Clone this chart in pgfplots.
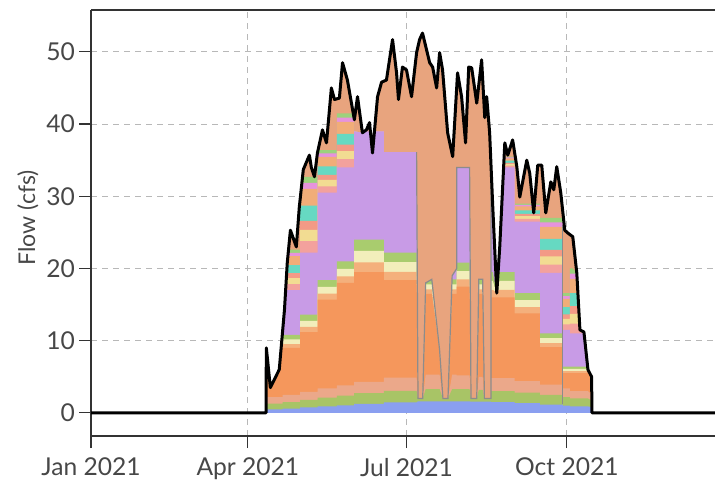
\documentclass[border=0pt]{standalone}
\usepackage{fontspec}
\setmainfont{Lato}
\usepackage{pgfplots}
\pgfplotsset{compat=1.18}
\usepackage{pgfplotstable}

\definecolor{cPeach}{RGB}{232,164,126}
\definecolor{cPurple}{RGB}{200,155,230}
\definecolor{cOrange}{RGB}{245,151,92}
\definecolor{cBlue}{RGB}{138,159,240}
\definecolor{cGreen}{RGB}{168,196,102}
\definecolor{cLsal}{RGB}{235,168,138}
\definecolor{cMa}{RGB}{244,176,124}
\definecolor{cMb}{RGB}{242,238,187}
\definecolor{cMc}{RGB}{169,204,110}
\definecolor{cUa}{RGB}{243,161,157}
\definecolor{cUb}{RGB}{242,220,146}
\definecolor{cUc}{RGB}{243,154,134}
\definecolor{cUd}{RGB}{102,217,194}
\definecolor{cUe}{RGB}{241,173,120}
\definecolor{cUf}{RGB}{230,147,220}
\definecolor{cUg}{RGB}{156,210,124}

% cumulative tops of the stacked components (day of year 2021, cfs)
\pgfplotstableread{
d b g s o ma mb mc p ua ub uc ud ue uf ug
100.6 0.5 1.3 2.2 9.0 9.0 9.0 9.0 9.0 9.0 9.0 9.0 9.0 9.0 9.0 9.0
102.9 0.5 1.3 2.2 3.5 3.5 3.5 3.5 3.5 3.5 3.5 3.5 3.5 3.5 3.5 3.5
108.0 0.5 1.3 2.2 6.0 6.0 6.0 6.0 6.0 6.0 6.0 6.0 6.0 6.0 6.0 6.0
110.0 0.5 1.3 2.2 11.5 11.5 11.5 11.5 11.5 11.5 11.5 11.5 11.5 11.5 11.5 11.5
110.0 0.6 1.5 2.5 9.0 9.54 10.17 10.8 11.5 11.5 11.5 11.5 11.5 11.5 11.5 11.5
111.0 0.6 1.5 2.5 9.0 9.54 10.17 10.8 14.3 14.3 14.3 14.3 14.3 14.3 14.3 14.3
112.6 0.6 1.5 2.5 9.0 9.54 10.17 10.8 17.0 17.84 18.68 19.35 20.47 20.8 20.8 20.8
113.2 0.6 1.5 2.5 9.0 9.54 10.17 10.8 17.0 17.84 18.68 19.35 20.47 21.7 22.15 22.3
113.5 0.6 1.5 2.5 9.0 9.54 10.17 10.8 17.0 17.84 18.68 19.35 20.47 21.7 22.15 22.6
120.0 0.6 1.5 2.5 9.0 9.54 10.17 10.8 17.0 17.84 18.68 19.35 20.47 21.7 22.15 22.6
120.0 0.75 1.8 2.9 11.2 11.92 12.76 13.6 22.2 23.78 25.35 26.61 28.71 29.6 29.6 29.6
121.0 0.75 1.8 2.9 11.2 11.92 12.76 13.6 22.2 23.78 25.35 26.61 28.71 31.02 31.86 31.89
121.8 0.75 1.8 2.9 11.2 11.92 12.76 13.6 22.2 23.78 25.35 26.61 28.71 31.02 31.86 32.7
130.0 0.75 1.8 2.9 11.2 11.92 12.76 13.6 22.2 23.78 25.35 26.61 28.71 31.02 31.86 32.7
130.0 0.9 2.1 3.4 15.7 16.51 17.46 18.4 30.5 31.39 32.27 32.98 34.16 35.46 35.93 36.1
130.5 0.9 2.1 3.4 15.7 16.51 17.46 18.4 30.5 31.39 32.27 32.98 34.16 35.46 35.93 36.4
141.0 0.9 2.1 3.4 15.7 16.51 17.46 18.4 30.5 31.39 32.27 32.98 34.16 35.46 35.93 36.4
141.0 1.05 2.4 3.8 18.0 18.9 19.95 21.0 34.0 35.13 36.25 37.15 38.65 40.3 40.9 41.5
150.0 1.05 2.4 3.8 18.0 18.9 19.95 21.0 34.0 35.13 36.25 37.15 38.65 40.3 40.9 41.5
151.0 1.05 2.4 3.8 18.0 18.9 19.95 21.0 34.0 35.13 36.25 37.15 38.65 40.3 40.74 40.74
151.0 1.25 2.75 4.3 19.5 20.85 22.43 24.0 39.0 39.0 39.0 39.0 39.0 39.0 39.0 39.0
155.7 1.25 2.75 4.3 19.5 20.85 22.43 24.0 38.8 38.8 38.8 38.8 38.8 38.8 38.8 38.8
157.0 1.25 2.75 4.3 19.5 20.85 22.43 24.0 39.0 39.0 39.0 39.0 39.0 39.0 39.0 39.0
160.0 1.25 2.75 4.3 19.5 20.85 22.43 24.0 39.0 39.0 39.0 39.0 39.0 39.0 39.0 39.0
160.5 1.25 2.75 4.3 19.5 20.85 22.43 24.0 38.5 38.5 38.5 38.5 38.5 38.5 38.5 38.5
161.5 1.25 2.75 4.3 19.5 20.85 22.43 24.0 36.0 36.0 36.0 36.0 36.0 36.0 36.0 36.0
162.5 1.25 2.75 4.3 19.5 20.85 22.43 24.0 38.7 38.7 38.7 38.7 38.7 38.7 38.7 38.7
162.8 1.25 2.75 4.3 19.5 20.85 22.43 24.0 39.0 39.0 39.0 39.0 39.0 39.0 39.0 39.0
168.0 1.25 2.75 4.3 19.5 20.85 22.43 24.0 39.0 39.0 39.0 39.0 39.0 39.0 39.0 39.0
168.0 1.45 3.05 4.9 18.4 19.54 20.87 22.2 36.1 36.1 36.1 36.1 36.1 36.1 36.1 36.1
186.8 1.45 3.05 4.9 18.4 19.54 20.87 22.2 36.1 36.1 36.1 36.1 36.1 36.1 36.1 36.1
187.6 1.6 2.0 2.0 2.0 2.0 2.0 2.0 2.0 2.0 2.0 2.0 2.0 2.0 2.0 2.0
190.3 1.6 2.0 2.0 2.0 2.0 2.0 2.0 2.0 2.0 2.0 2.0 2.0 2.0 2.0 2.0
192.0 1.6 3.3 5.3 16.5 17.1 17.8 18.0 18.0 18.0 18.0 18.0 18.0 18.0 18.0 18.0
195.5 1.6 3.3 5.3 16.5 17.1 17.8 18.5 18.5 18.5 18.5 18.5 18.5 18.5 18.5 18.5
200.0 1.6 3.3 5.3 8.7 8.7 8.7 8.7 8.7 8.7 8.7 8.7 8.7 8.7 8.7 8.7
201.9 1.6 2.0 2.0 2.0 2.0 2.0 2.0 2.0 2.0 2.0 2.0 2.0 2.0 2.0 2.0
204.8 1.6 2.0 2.0 2.0 2.0 2.0 2.0 2.0 2.0 2.0 2.0 2.0 2.0 2.0 2.0
207.2 1.6 3.3 5.3 16.5 17.1 17.8 18.5 19.0 19.0 19.0 19.0 19.0 19.0 19.0 19.0
209.8 1.6 3.3 5.3 16.5 17.1 17.8 18.5 20.0 20.0 20.0 20.0 20.0 20.0 20.0 20.0
209.8 1.6 3.3 5.2 17.5 18.49 19.65 20.8 34.0 34.0 34.0 34.0 34.0 34.0 34.0 34.0
217.2 1.6 3.3 5.2 17.5 18.49 19.65 20.8 34.0 34.0 34.0 34.0 34.0 34.0 34.0 34.0
218.0 1.55 2.0 2.0 2.0 2.0 2.0 2.0 2.0 2.0 2.0 2.0 2.0 2.0 2.0 2.0
221.3 1.55 2.0 2.0 2.0 2.0 2.0 2.0 2.0 2.0 2.0 2.0 2.0 2.0 2.0 2.0
222.5 1.55 3.2 5.0 16.5 17.1 17.8 18.5 18.5 18.5 18.5 18.5 18.5 18.5 18.5 18.5
224.7 1.55 3.2 5.0 16.5 17.1 17.8 18.5 18.5 18.5 18.5 18.5 18.5 18.5 18.5 18.5
225.7 1.55 2.0 2.0 2.0 2.0 2.0 2.0 2.0 2.0 2.0 2.0 2.0 2.0 2.0 2.0
229.5 1.55 2.0 2.0 2.0 2.0 2.0 2.0 2.0 2.0 2.0 2.0 2.0 2.0 2.0 2.0
229.5 1.5 3.0 4.8 16.0 17.05 18.28 19.5 34.0 34.2 34.2 34.2 34.2 34.2 34.2 34.2
230.5 1.5 3.0 4.8 16.0 17.05 18.28 19.5 28.5 28.5 28.5 28.5 28.5 28.5 28.5 28.5
232.8 1.5 3.0 4.8 16.0 16.6 16.6 16.6 16.6 16.6 16.6 16.6 16.6 16.6 16.6 16.6
233.6 1.5 3.0 4.8 16.0 17.05 18.28 19.5 19.6 19.6 19.6 19.6 19.6 19.6 19.6 19.6
234.5 1.5 3.0 4.8 16.0 17.05 18.28 19.5 23.0 23.0 23.0 23.0 23.0 23.0 23.0 23.0
236.7 1.5 3.0 4.8 16.0 17.05 18.28 19.5 34.0 34.0 34.0 34.0 34.0 34.0 34.0 34.0
237.4 1.5 3.0 4.8 16.0 17.05 18.28 19.5 34.0 34.23 34.45 34.63 34.93 35.26 35.38 35.5
243.0 1.5 3.0 4.8 16.0 17.05 18.28 19.5 34.0 34.23 34.45 34.63 34.93 35.26 35.38 35.5
243.0 1.35 2.8 4.4 13.8 14.64 15.62 16.6 26.5 26.88 27.25 27.55 28.05 28.6 28.8 29.0
253.0 1.35 2.8 4.4 13.8 14.64 15.62 16.6 26.5 26.88 27.25 27.55 28.05 28.6 28.8 29.0
254.0 1.35 2.8 4.4 13.8 14.64 15.62 16.6 26.5 26.88 27.25 27.55 27.7 27.7 27.7 27.7
255.0 1.35 2.8 4.4 13.8 14.64 15.62 16.6 26.5 26.88 27.25 27.55 28.05 28.6 28.8 29.0
257.5 1.35 2.8 4.4 13.8 14.64 15.62 16.6 26.5 26.88 27.25 27.55 28.05 28.6 28.8 29.0
257.5 1.15 2.5 3.9 9.1 9.67 10.34 11.0 19.4 20.54 21.68 22.59 24.11 25.78 26.39 27.0
270.7 1.15 2.5 3.9 9.1 9.67 10.34 11.0 19.4 20.54 21.68 22.59 24.11 25.78 26.39 27.0
270.7 1.0 2.2 3.4 5.5 5.77 6.09 6.4 11.5 12.27 13.03 13.64 14.66 15.78 16.19 16.6
274.7 1.0 2.2 3.4 5.5 5.77 6.09 6.4 11.5 12.27 13.03 13.64 14.66 15.78 16.19 16.6
274.7 0.9 2.0 3.0 5.5 5.77 6.09 6.4 11.0 12.35 13.7 14.78 16.58 18.56 19.28 20.0
276.4 0.9 2.0 3.0 5.5 5.77 6.09 6.4 11.0 12.35 13.7 14.78 16.58 18.56 19.28 20.0
278.7 0.9 2.0 3.0 5.5 5.77 6.09 6.4 11.0 12.35 13.7 14.78 16.58 18.56 19.28 19.4
279.5 0.9 2.0 3.0 5.5 5.77 6.09 6.4 11.0 12.35 13.7 14.78 15.9 15.9 15.9 15.9
280.5 0.9 2.0 3.0 5.5 5.77 6.09 6.4 11.0 11.5 11.5 11.5 11.5 11.5 11.5 11.5
282.8 0.9 2.0 3.0 5.5 5.77 6.09 6.4 11.0 11.2 11.2 11.2 11.2 11.2 11.2 11.2
284.0 0.9 2.0 3.0 5.5 5.77 6.09 6.4 8.5 8.5 8.5 8.5 8.5 8.5 8.5 8.5
285.1 0.9 2.0 3.0 5.5 5.77 6.0 6.0 6.0 6.0 6.0 6.0 6.0 6.0 6.0 6.0
287.2 0.8 1.7 2.6 5.0 5.0 5.0 5.0 5.0 5.0 5.0 5.0 5.0 5.0 5.0 5.0
}\stack

% total flow
\pgfplotstableread{
d t
0 0
100.4 0
100.6 9.0
102.9 3.5
108.0 6.0
111.0 14.3
112.6 20.8
114.4 25.3
117.8 23.0
119.5 28.5
121.8 33.7
125.3 35.7
126.4 34.0
128.2 32.7
129.9 36.0
132.8 39.2
135.1 37.4
137.9 45.0
139.7 43.4
142.5 43.6
144.3 48.5
147.1 46.1
151.1 40.6
152.9 43.8
155.7 38.8
158.0 39.2
159.8 40.2
161.5 36.0
164.4 43.8
166.7 45.8
169.5 46.1
173.0 51.7
175.3 47.1
176.4 43.4
178.7 47.9
181.0 47.5
183.9 43.8
186.8 49.9
188.5 51.7
190.2 52.6
192.5 50.3
194.3 48.5
196.0 47.9
198.3 45.0
200.0 49.9
201.7 47.5
204.6 38.8
207.5 35.5
210.3 47.1
212.6 43.8
214.9 37.4
216.7 47.9
218.4 47.8
221.3 42.9
224.1 48.9
225.9 40.9
227.0 43.8
228.7 38.8
230.5 28.5
232.8 16.6
234.5 23.0
237.4 37.4
239.1 35.7
241.9 37.8
244.3 34.1
246.0 29.9
250.0 35.0
251.7 33.2
254.0 27.7
256.3 34.3
258.6 34.3
260.9 27.7
263.8 32.0
265.5 30.9
267.2 34.1
269.5 30.5
271.8 25.3
273.6 24.9
276.4 24.4
278.7 19.4
280.5 11.5
282.8 11.2
285.1 6.0
287.2 5.0
287.4 0
358 0
}\total

\begin{document}
\begin{tikzpicture}
\begin{axis}[
  name=ax,
  scale only axis,
  width=312pt, height=213pt,
  xmin=0, xmax=358, ymin=-3.2, ymax=55.8,
  axis y line*=left,
  xtick={0,90,181,273},
  xticklabels={Jan 2021,Apr 2021,Jul 2021,Oct 2021},
  ytick={0,10,20,30,40,50},
  xtick pos=left,
  tick align=outside,
  major tick length=6pt,
  /pgf/number format/assume math mode=true,
  tick style={draw=black!80, line width=0.6pt},
  axis line style={draw=black!80, line width=0.7pt},
  grid=major,
  major grid style={draw=black!28, dash pattern=on 3pt off 2.5pt, line width=0.45pt},
  tick label style={font=\fontsize{12.3}{14}\selectfont, text=black!72},
  xticklabel style={yshift=-1.5pt},
  yticklabel style={xshift=1.5pt},
  ylabel={Flow (cfs)},
  every axis y label/.style={at={(axis description cs:-0.101,0.512)}, anchor=center, rotate=90, font=\fontsize{11.5}{13}\selectfont, text=black!72},
]
\addplot[draw=none, fill=cPeach] table[x=d,y=t]{\total} \closedcycle;
\addplot[draw=none, fill=cUg] table[x=d,y=ug]{\stack} \closedcycle;
\addplot[draw=none, fill=cUf] table[x=d,y=uf]{\stack} \closedcycle;
\addplot[draw=none, fill=cUe] table[x=d,y=ue]{\stack} \closedcycle;
\addplot[draw=none, fill=cUd] table[x=d,y=ud]{\stack} \closedcycle;
\addplot[draw=none, fill=cUc] table[x=d,y=uc]{\stack} \closedcycle;
\addplot[draw=none, fill=cUb] table[x=d,y=ub]{\stack} \closedcycle;
\addplot[draw=none, fill=cUa] table[x=d,y=ua]{\stack} \closedcycle;
\addplot[draw=none, fill=cPurple] table[x=d,y=p]{\stack} \closedcycle;
\addplot[draw=none, fill=cMc] table[x=d,y=mc]{\stack} \closedcycle;
\addplot[draw=none, fill=cMb] table[x=d,y=mb]{\stack} \closedcycle;
\addplot[draw=none, fill=cMa] table[x=d,y=ma]{\stack} \closedcycle;
\addplot[draw=none, fill=cOrange] table[x=d,y=o]{\stack} \closedcycle;
\addplot[draw=none, fill=cLsal] table[x=d,y=s]{\stack} \closedcycle;
\addplot[draw=none, fill=cGreen] table[x=d,y=g]{\stack} \closedcycle;
\addplot[draw=none, fill=cBlue] table[x=d,y=b]{\stack} \closedcycle;
% grey outline of the dips
\addplot[draw=black!45, line width=0.6pt] coordinates {
(186.8,36.1) (187.6,2.0) (190.3,2.0) (192.0,18.0) (195.5,18.5) (200.0,8.7) (201.9,2.0) (204.8,2.0) (207.2,19.0) (209.8,20.0) (209.8,34.0) (217.2,34.0) (218.0,2.0) (221.3,2.0) (222.5,18.5) (224.7,18.5) (225.7,2.0) (229.5,2.0) (229.5,34.0)};
\addplot[draw=black!45, line width=0.5pt] coordinates {(270.6,26.0) (270.6,1.2)};
% total
\addplot[draw=black, line width=1.5pt, line join=round] table[x=d,y=t]{\total};
\end{axis}
\pgfresetboundingbox
\path[use as bounding box] ([shift={(-45.5pt,-22.5pt)}]ax.south west) rectangle ([shift={(0pt,5pt)}]ax.north east);
\end{tikzpicture}
\end{document}
